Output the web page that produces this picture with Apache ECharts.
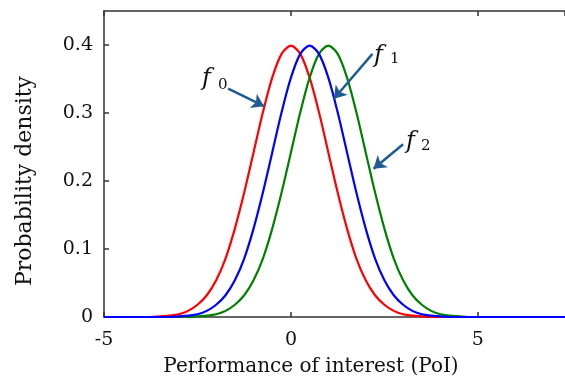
<!DOCTYPE html>
<html lang="en">
<head>
    <meta charset="UTF-8">
    <script src="https://cdn.jsdelivr.net/npm/echarts@6/dist/echarts.min.js"></script>
    <title>Probability density</title>
</head>
<body style="margin:0">
    <div id="pdf-chart" style="width: 565px;height:385px;"></div>
</body>
<script type="text/javascript">
    // x positions (PoI)
    var xValues = [-5, -4, -3.75, -3.5, -3.25, -3, -2.75, -2.5, -2.25, -2, -1.75, -1.5, -1.25, -1, -0.75, -0.5, -0.25,
        0, 0.25, 0.5, 0.75, 1, 1.25, 1.5, 1.75, 2, 2.25, 2.5, 2.75, 3, 3.25, 3.5, 3.75, 4, 4.25, 4.5, 4.75, 5, 6, 7.5];
    // f0 (red)
    var f0Values = [0, 0, 0, 0.001, 0.002, 0.004, 0.009, 0.018, 0.032, 0.054, 0.086, 0.130, 0.183, 0.242, 0.301, 0.352, 0.387,
        0.399, 0.387, 0.352, 0.301, 0.242, 0.183, 0.130, 0.086, 0.054, 0.032, 0.018, 0.009, 0.004, 0.002, 0.001, 0, 0, 0, 0, 0, 0, 0, 0];
    // f1 (blue)
    var f1Values = [0, 0, 0, 0, 0, 0.001, 0.002, 0.004, 0.009, 0.018, 0.032, 0.054, 0.086, 0.130, 0.183, 0.242, 0.301,
        0.352, 0.387, 0.399, 0.387, 0.352, 0.301, 0.242, 0.183, 0.130, 0.086, 0.054, 0.032, 0.018, 0.009, 0.004, 0.002, 0.001, 0, 0, 0, 0, 0, 0];
    // f2 (green)
    var f2Values = [0, 0, 0, 0, 0, 0, 0, 0.001, 0.002, 0.004, 0.009, 0.018, 0.032, 0.054, 0.086, 0.130, 0.183,
        0.242, 0.301, 0.352, 0.387, 0.399, 0.387, 0.352, 0.301, 0.242, 0.183, 0.130, 0.086, 0.054, 0.032, 0.018, 0.009, 0.004, 0.002, 0.001, 0, 0, 0, 0];
    // annotation arrows, [from, to] in data coords
    var arrows = [
        [[-1.68, 0.336], [-0.72, 0.310]],
        [[2.18, 0.387], [1.15, 0.321]],
        [[3.00, 0.254], [2.21, 0.218]]
    ];

    function pairs(ys) {
        return xValues.map(function (x, i) { return [x, ys[i]]; });
    }

    var serif = '"DejaVu Serif", serif';
    var axisColor = '#333';
    var arrowColor = '#1f5c94';

    var chart = echarts.init(document.getElementById('pdf-chart'));
    chart.setOption({
        animation: false,
        grid: { left: 104, top: 11, right: 0, bottom: 68 },
        xAxis: [{
            type: 'value', min: -5, max: 7.33, interval: 5,
            axisLine: { onZero: false, lineStyle: { color: axisColor, width: 1.5 } },
            axisTick: { inside: true, length: 5, lineStyle: { color: axisColor, width: 1.5 } },
            axisLabel: { color: '#111', fontFamily: serif, fontSize: 19, margin: 14, showMaxLabel: false },
            splitLine: { show: false }
        }, {
            type: 'value', min: -5, max: 7.33, interval: 5, position: 'top',
            axisLine: { onZero: false, lineStyle: { color: axisColor, width: 1.5 } },
            axisTick: { inside: true, length: 5, lineStyle: { color: axisColor, width: 1.5 } },
            axisLabel: { show: false },
            splitLine: { show: false }
        }],
        yAxis: {
            type: 'value', min: 0, max: 0.45, interval: 0.1,
            axisLine: { show: true, onZero: false, lineStyle: { color: axisColor, width: 1.5 } },
            axisTick: { show: true, inside: true, length: 5, lineStyle: { color: axisColor, width: 1.5 } },
            axisLabel: { color: '#111', fontFamily: serif, fontSize: 19, margin: 11, showMaxLabel: false },
            splitLine: { show: false }
        },
        series: [{
            name: 'f0', type: 'line', data: pairs(f0Values), smooth: 0.3, showSymbol: false,
            lineStyle: { color: '#ff0000', width: 2.2 }
        }, {
            name: 'f2', type: 'line', data: pairs(f2Values), smooth: 0.3, showSymbol: false,
            lineStyle: { color: '#008000', width: 2.2 }
        }, {
            name: 'f1', type: 'line', data: pairs(f1Values), smooth: 0.3, showSymbol: false,
            lineStyle: { color: '#0000ff', width: 2.2 },
            markLine: {
                silent: true,
                symbol: ['none', 'arrow'],
                symbolSize: 12,
                label: { show: false },
                lineStyle: { color: arrowColor, width: 2.5, type: 'solid' },
                data: arrows.map(function (a) {
                    return [{ coord: a[0] }, { coord: a[1] }];
                })
            }
        }],
        graphic: [
            { type: 'text', x: 25, y: 181, rotation: Math.PI / 2,
              style: { text: 'Probability density', font: '22px ' + serif, fill: '#111', textAlign: 'center', textVerticalAlign: 'middle' } },
            { type: 'text', x: 311, y: 367,
              style: { text: 'Performance of interest (PoI)', font: '20px ' + serif, fill: '#111', textAlign: 'center', textVerticalAlign: 'middle' } },
            { type: 'text', x: 202, y: 67, style: { text: 'f', font: 'italic 24px ' + serif, fill: '#111' } },
            { type: 'text', x: 218, y: 78, style: { text: '0', font: '15px ' + serif, fill: '#111' } },
            { type: 'text', x: 374, y: 44, style: { text: 'f', font: 'italic 24px ' + serif, fill: '#111' } },
            { type: 'text', x: 390, y: 52, style: { text: '1', font: '15px ' + serif, fill: '#111' } },
            { type: 'text', x: 406, y: 130, style: { text: 'f', font: 'italic 24px ' + serif, fill: '#111' } },
            { type: 'text', x: 421, y: 139, style: { text: '2', font: '15px ' + serif, fill: '#111' } }
        ]
    });
</script>
</html>
